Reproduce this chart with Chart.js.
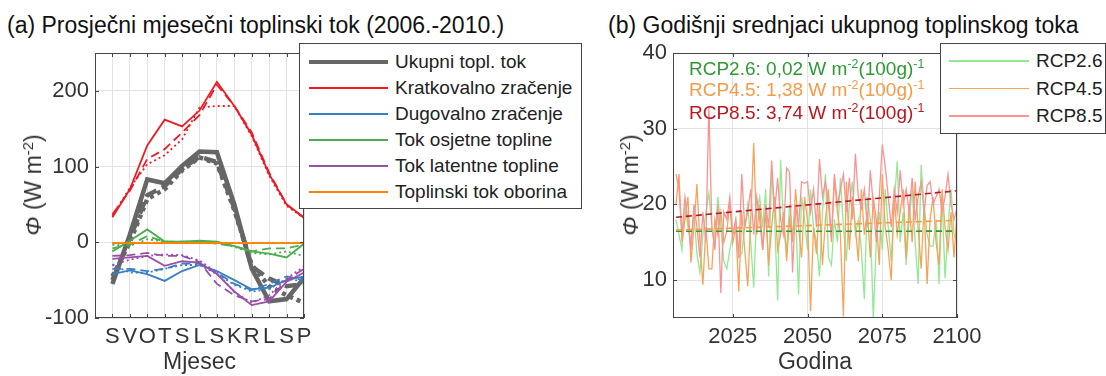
<!DOCTYPE html>
<html>
<head>
<meta charset="utf-8">
<script src="https://cdn.jsdelivr.net/npm/chart.js@4.4.0/dist/chart.umd.min.js"></script>
<style>
  body { margin: 0; background: #fff; width: 1106px; height: 376px; overflow: hidden; position: relative;
         font-family: "Liberation Sans", Arial, sans-serif; color: #222; }
  canvas { position: absolute; top: 0; }
  #chartA { left: 0; }
  #chartB { left: 600px; }
  .title { position: absolute; top: 12px; font-size: 23px; line-height: 26px; white-space: nowrap; color: #111; }
  .ylab { position: absolute; font-size: 23px; line-height: 26px; white-space: nowrap; color: #333;
          transform: translate(-50%, -50%) rotate(-90deg); }
  .ylab sup, .note sup { font-size: 0.65em; vertical-align: 0.55em; line-height: 0; }
  .legend { position: absolute; background: #fff; border: 1px solid #444; box-sizing: border-box; font-size: 19px; color: #222; }
  .legend .row { position: absolute; left: 0; right: 0; height: 26px; line-height: 26px; white-space: nowrap; }
  .legend .swatch { position: absolute; }
  .legend .txt { position: absolute; top: 0; }
  .note { position: absolute; font-size: 19px; line-height: 20px; white-space: nowrap; }
</style>
</head>
<body>
<div class="title" style="left:7px">(a) Prosječni mjesečni toplinski tok (2006.-2010.)</div>
<div class="title" style="left:608px">(b) Godišnji srednjaci ukupnog toplinskog toka</div>

<canvas id="chartA" width="320" height="376"></canvas>
<canvas id="chartB" width="400" height="376"></canvas>

<div class="ylab" style="left:33px; top:185px"><i>Φ</i> (W m<sup>-2</sup>)</div>
<div class="ylab" style="left:630px; top:185px"><i>Φ</i> (W m<sup>-2</sup>)</div>

<div id="legendA" class="legend" style="left:299px; top:43px; width:283px; height:166px"></div>
<div id="legendB" class="legend" style="left:940px; top:43px; width:166px; height:91px"></div>

<div id="notes"></div>

<script>
// ---- (a) mjesečni srednjaci, tri varijante svake komponente ----
const months = ['S', 'V', 'O', 'T', 'S', 'L', 'S', 'K', 'R', 'L', 'S', 'P'];
const yTicksA = [-100, 0, 100, 200];

const totalSolid = [-55, 10, 83, 78, 101, 120, 119, 50, -35, -78, -75, -47];
const totalDash  = [-50, 5, 62, 74, 97, 113, 106, 45, -32, -48, -58, -55];
const totalDot   = [-45, 0, 57, 70, 95, 112, 104, 42, -30, -58, -70, -80];

const swSolid = [33, 70, 128, 162, 153, 174, 212, 180, 142, 90, 50, 33];
const swDash  = [37, 68, 110, 123, 145, 168, 208, 180, 145, 92, 50, 32];
const swDot   = [35, 72, 103, 115, 136, 178, 180, 180, 140, 88, 48, 32];

const lwSolid = [-42, -37, -42, -51, -38, -30, -38, -50, -62, -60, -50, -45];
const lwDash  = [-35, -35, -38, -35, -28, -28, -40, -55, -63, -55, -45, -50];
const lwDot   = [-30, -40, -40, -35, -30, -30, -42, -56, -65, -62, -48, -52];

const shSolid = [-12, 2, 17, 1, 1, 2, 1, -5, -12, -15, -20, -2];
const shDash  = [-8, -3, 8, 1, 1, 1, -2, -5, -12, -8, -8, -3];
const shDot   = [-3, -5, 4, 1, 0, 1, -1, -6, -14, -16, -12, -18];

const lhSolid = [-22, -20, -18, -31, -25, -27, -42, -65, -83, -78, -52, -40];
const lhDash  = [-18, -17, -14, -18, -18, -26, -55, -70, -78, -75, -50, -35];
const lhDot   = [-30, -23, -18, -16, -17, -24, -40, -66, -80, -70, -48, -32];

const prSolid = [-1, -1, -1, -1, -1, -1, -1, -1, -1, -1, -1, -1];
const prDash  = [-1, -1, -1, -1, -1, -1, -1, -1, -1, -1, -1, -1];
const prDot   = [-1, -1, -1, -1, -1, -1, -1, -1, -1, -1, -1, -1];

const fluxNames = ['Ukupni topl. tok', 'Kratkovalno zračenje', 'Dugovalno zračenje',
                   'Tok osjetne topline', 'Tok latentne topline', 'Toplinski tok oborina'];
const fluxColors = ['#666666', '#ec1c24', '#3a7fc1', '#4cae4c', '#9a4fa8', '#ff8200'];
const fluxSeries = [
  [totalSolid, totalDash, totalDot],
  [swSolid, swDash, swDot],
  [lwSolid, lwDash, lwDot],
  [shSolid, shDash, shDot],
  [lhSolid, lhDash, lhDot],
  [prSolid, prDash, prDot]
];

// ---- (b) godišnji srednjaci 2006.-2100. ----
const yTicksB = [10, 20, 30, 40];
const xTicksB = [2025, 2050, 2075, 2100];

const rcp26 = [
  18, 16, 14, 20.5, 17, 15, 19, 13.5, 11, 16,
  19, 21.5, 17, 15, 21, 17, 12.5, 11.5, 14, 16,
  18, 13, 13.5, 17, 20, 15, 9, 19, 21, 17,
  22, 10.5, 24.5, 18, 7.3, 25.9, 17, 14, 20, 16,
  19, 8.1, 21, 18, 14, 22, 17, 15, 10.5, 19,
  24, 13, 12, 18, 15, 23.5, 17, 12.5, 20, 23,
  16, 18, 14, 7.5, 21, 18, 5, 15, 19, 14,
  22, 17, 12.5, 20, 25.7, 15, 19, 12, 18, 22,
  15, 9.5, 25.2, 20, 16, 14.5, 14.5, 18, 9.5, 21,
  10.3, 17, 22, 16, 15
];
const rcp45 = [
  20, 24, 15, 18, 21, 12.3, 17, 22.7, 15, 9.4,
  17, 11.5, 11.5, 18, 16, 19, 15, 16.5, 20, 15,
  17, 8.5, 19, 14, 9.2, 18, 28.1, 16, 20, 14,
  19, 12, 17, 21, 14, 16, 19, 12.5, 18, 15,
  22, 17, 13, 21, 18, 5.9, 17, 13.5, 20, 12,
  18, 22, 15, 23.5, 19, 16, 5.2, 23, 14, 21,
  17, 12.5, 22, 16, 19, 13, 21, 18, 12, 24,
  17, 14, 10, 21, 16, 19, 22, 13, 20, 15,
  23, 17, 11.5, 20, 9.5, 18, 21, 15, 12, 22,
  17, 14, 19, 13, 19
];
const rcp85 = [
  24, 22, 16, 21, 18, 14, 20, 17, 13, 19,
  15, 33, 17, 14, 20, 8.3, 19, 18, 21, 16,
  18, 13, 24, 17, 19, 22, 16, 21, 18, 14,
  20, 17, 25.8, 19, 23.5, 18, 16, 24.8, 24.3, 11,
  20, 17, 23, 22.8, 23, 19, 22, 17, 26, 21,
  23, 20, 15.5, 24, 20, 22, 24, 19, 23.5, 18,
  26.7, 21, 19.5, 22, 17, 24.5, 20, 15, 21, 27.9,
  25, 21, 17, 22, 19, 24.5, 20, 22, 19, 23.5,
  18, 21, 23, 19, 22.5, 23, 20, 21, 22, 19,
  21, 24, 20, 18, 19.5
];

// linearni trendovi (početak i kraj razdoblja)
const trendYears = [2006, 2100];
const trend26 = [16.45, 16.47];
const trend45 = [16.6, 17.9];
const trend85 = [18.3, 21.8];

const rcpNames = ['RCP2.6', 'RCP4.5', 'RCP8.5'];
const rcpLight = ['#94e894', '#f7a35c', '#f79494'];
const rcpDark = ['#2f9a35', '#f59a48', '#b81820'];
const rcpRates = ['0,02', '1,38', '3,74'];

const years = [];
for (let y = 2006; y <= 2100; y++) years.push(y);

const FONT = '"Liberation Sans", Arial, sans-serif';

// okvir osi i kratke crtice prema unutra (kao u MATLAB-u)
const boxAxes = {
  id: 'boxAxes',
  afterDraw(chart) {
    const { ctx, chartArea: a, scales } = chart;
    ctx.save();
    ctx.strokeStyle = '#454545';
    ctx.lineWidth = 1;
    ctx.strokeRect(Math.round(a.left) + 0.5, Math.round(a.top) + 0.5,
                   Math.round(a.width) - 1, Math.round(a.height) - 1);
    const len = 4;
    ctx.beginPath();
    scales.x.ticks.forEach(t => {
      const px = Math.round(scales.x.getPixelForValue(t.value)) + 0.5;
      ctx.moveTo(px, a.top); ctx.lineTo(px, a.top + len);
      ctx.moveTo(px, a.bottom); ctx.lineTo(px, a.bottom - len);
    });
    scales.y.ticks.forEach(t => {
      const py = Math.round(scales.y.getPixelForValue(t.value)) + 0.5;
      ctx.moveTo(a.left, py); ctx.lineTo(a.left + len, py);
      ctx.moveTo(a.right, py); ctx.lineTo(a.right - len, py);
    });
    ctx.stroke();
    ctx.restore();
  }
};

function axisStyle(extra) {
  return Object.assign({
    type: 'linear',
    border: { display: false },
    grid: { color: '#e2e2e2', drawTicks: false },
    ticks: { color: '#333', font: { family: FONT, size: 22 }, padding: 6, autoSkip: false, maxRotation: 0,
             callback: v => String(v) }
  }, extra);
}

// ---- graf (a) ----
const dashStyles = [[], [9, 5], [2, 3]];
const dsA = [];
fluxSeries.forEach((group, k) => {
  group.forEach((vals, s) => {
    const isTotal = k === 0;
    dsA.push({
      label: fluxNames[k],
      data: vals.map((v, i) => ({ x: i + 1, y: v })),
      borderColor: fluxColors[k],
      borderWidth: isTotal ? 4.5 : 1.8,
      borderDash: isTotal && s === 2 ? [4, 4] : (isTotal && s === 1 ? [12, 6] : dashStyles[s]),
      pointRadius: 0,
      tension: 0,
      order: -dsA.length
    });
  });
});

new Chart(document.getElementById('chartA'), {
  type: 'line',
  data: { datasets: dsA },
  options: {
    responsive: false,
    animation: false,
    layout: { padding: { left: 0, right: 16, top: 53, bottom: 0 } },
    plugins: { legend: { display: false }, tooltip: { enabled: false } },
    scales: {
      x: axisStyle({
        min: 0, max: 12,
        afterBuildTicks: s => { s.ticks = months.map((m, i) => ({ value: i + 1 })); },
        afterFit: s => { s.height = 58; },
        ticks: { color: '#333', font: { family: FONT, size: 22 }, padding: 6, autoSkip: false, maxRotation: 0,
                 callback: v => months[v - 1] },
        title: { display: true, text: 'Mjesec', color: '#333', font: { family: FONT, size: 23 }, padding: 0 }
      }),
      y: axisStyle({
        min: -100, max: 250,
        afterBuildTicks: s => { s.ticks = yTicksA.map(v => ({ value: v })); },
        afterFit: s => { s.width = 95; }
      })
    }
  },
  plugins: [boxAxes]
});

// ---- graf (b) ----
const rcpSeries = [rcp26, rcp45, rcp85];
const trendSeries = [trend26, trend45, trend85];
const dsB = [];
rcpSeries.forEach((vals, k) => {
  dsB.push({
    label: rcpNames[k],
    data: vals.map((v, i) => ({ x: years[i], y: v })),
    borderColor: rcpLight[k],
    borderWidth: 1.3,
    pointRadius: 0,
    tension: 0,
    order: -dsB.length
  });
});
trendSeries.forEach((vals, k) => {
  dsB.push({
    label: rcpNames[k] + ' trend',
    data: vals.map((v, i) => ({ x: trendYears[i], y: v })),
    borderColor: rcpDark[k],
    borderWidth: 1.6,
    borderDash: [6, 4],
    pointRadius: 0,
    order: -dsB.length
  });
});

new Chart(document.getElementById('chartB'), {
  type: 'line',
  data: { datasets: dsB },
  options: {
    responsive: false,
    animation: false,
    layout: { padding: { left: 0, right: 43, top: 53, bottom: 0 } },
    plugins: { legend: { display: false }, tooltip: { enabled: false } },
    scales: {
      x: axisStyle({
        min: 2005, max: 2100,
        afterBuildTicks: s => { s.ticks = xTicksB.map(v => ({ value: v })); },
        afterFit: s => { s.height = 58; },
        title: { display: true, text: 'Godina', color: '#333', font: { family: FONT, size: 23 }, padding: 0 }
      }),
      y: axisStyle({
        min: 5, max: 40,
        afterBuildTicks: s => { s.ticks = yTicksB.map(v => ({ value: v })); },
        afterFit: s => { s.width = 73; }
      })
    }
  },
  plugins: [boxAxes]
});

// ---- legende ----
function buildLegend(el, names, colors, widths, rowTop, rowStep, sw) {
  names.forEach((n, i) => {
    const row = document.createElement('div');
    row.className = 'row';
    row.style.top = (rowTop + i * rowStep) + 'px';
    const line = document.createElement('div');
    line.className = 'swatch';
    line.style.left = sw.left + 'px';
    line.style.width = sw.width + 'px';
    line.style.height = widths[i] + 'px';
    line.style.top = (13 - widths[i] / 2) + 'px';
    line.style.background = colors[i];
    const txt = document.createElement('div');
    txt.className = 'txt';
    txt.style.left = sw.text + 'px';
    txt.textContent = n;
    row.appendChild(line);
    row.appendChild(txt);
    el.appendChild(row);
  });
}
buildLegend(document.getElementById('legendA'), fluxNames, fluxColors,
            [4.5, 2, 2, 2, 2, 2], 5, 26, { left: 9, width: 79, text: 95 });
buildLegend(document.getElementById('legendB'), rcpNames, rcpLight,
            [1.5, 1.5, 1.5], 4, 27.5, { left: 8, width: 80, text: 95 });

// ---- tekst s trendovima ----
const notes = document.getElementById('notes');
const noteTops = [59, 80, 103];
rcpNames.forEach((n, k) => {
  const d = document.createElement('div');
  d.className = 'note';
  d.style.left = '689px';
  d.style.top = noteTops[k] + 'px';
  d.style.color = rcpDark[k];
  d.innerHTML = n + ': ' + rcpRates[k] + ' W m<sup>-2</sup>(100g)<sup>-1</sup>';
  notes.appendChild(d);
});
</script>
</body>
</html>
